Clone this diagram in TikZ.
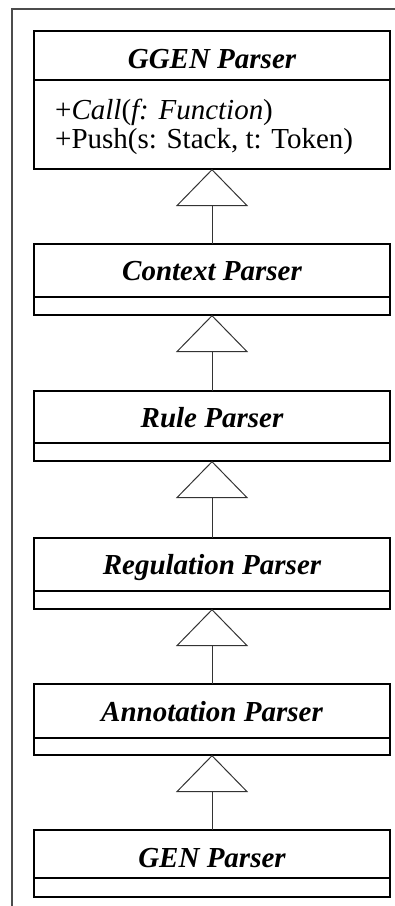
\documentclass[tikz,border=0pt]{standalone}
\usepackage{fontspec}
\setmainfont{Liberation Serif}
\usetikzlibrary{arrows.meta}
\begin{document}
\begin{tikzpicture}[x=1pt,y=-1pt,
  part/.style={draw=black,line width=1.3pt,fill=white,minimum width=356pt,
    inner sep=0pt,outer sep=0pt,anchor=north},
  title/.style={anchor=base,inner sep=0pt,font=\fontsize{29}{33}\selectfont\bfseries\itshape},
  member/.style={anchor=base west,inner sep=0pt,font=\fontsize{29}{33}\selectfont},
  inherit/.style={draw=black!80,line width=1pt,
    -{Triangle[open,width=72pt,length=37pt,line width=1pt,fill=white]}}]
  \useasboundingbox (0,0) rectangle (395,906);
  % page frame (only its left and top edges fall inside the sheet)
  \draw[draw=black!70,line width=2pt] (12,906) -- (12,9) -- (400,9);

  % GGEN Parser
  \node[part,minimum height=49pt] (ggenT) at (212,31) {};
  \node[part,minimum height=89pt] (ggen) at (ggenT.south) {};
  \node[title] (ggenL) at (212,68) {GGEN Parser};
  \node[member] (m1) at (55,119) {+\textit{Call}(\textit{f: Function})};
  \node[member] (m2) at (55,148) {+Push(s: Stack, t: Token)};

  % Context Parser
  \node[part,minimum height=53pt] (ctxT) at (212,244) {};
  \node[part,minimum height=18pt] (ctx) at (ctxT.south) {};
  \node[title] (ctxL) at (212,280) {Context Parser};

  % Rule Parser
  \node[part,minimum height=52pt] (ruleT) at (212,391) {};
  \node[part,minimum height=18pt] (rule) at (ruleT.south) {};
  \node[title] (ruleL) at (212,427) {Rule Parser};

  % Regulation Parser
  \node[part,minimum height=53pt] (regT) at (212,538) {};
  \node[part,minimum height=18pt] (reg) at (regT.south) {};
  \node[title] (regL) at (212,574) {Regulation Parser};

  % Annotation Parser
  \node[part,minimum height=54pt] (annT) at (212,684) {};
  \node[part,minimum height=17pt] (ann) at (annT.south) {};
  \node[title] (annL) at (212,721) {Annotation Parser};

  % GEN Parser
  \node[part,minimum height=48pt] (genT) at (212,830) {};
  \node[part,minimum height=19pt] (gen) at (genT.south) {};
  \node[title] (genL) at (212,867) {GEN Parser};

  % generalisation arrows
  \draw[inherit] (ctxT.north) -- (ggen.south);
  \draw[inherit] (ruleT.north) -- (ctx.south);
  \draw[inherit] (regT.north) -- (rule.south);
  \draw[inherit] (annT.north) -- (reg.south);
  \draw[inherit] (genT.north) -- (ann.south);
\end{tikzpicture}
\end{document}
